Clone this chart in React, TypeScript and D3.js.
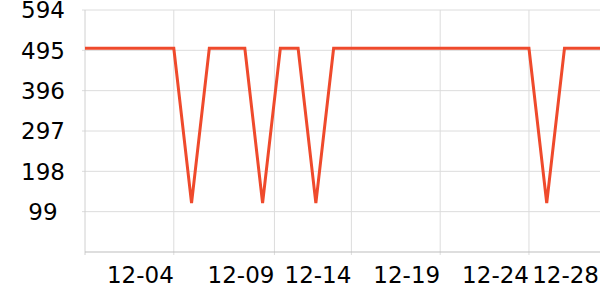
import React from "react";
import * as d3 from "d3";

const dates: string[] = [
  "2023-11-29", "2023-11-30", "2023-12-01", "2023-12-02", "2023-12-03",
  "2023-12-04", "2023-12-05", "2023-12-06", "2023-12-07", "2023-12-08",
  "2023-12-09", "2023-12-10", "2023-12-11", "2023-12-12", "2023-12-13",
  "2023-12-14", "2023-12-15", "2023-12-16", "2023-12-17", "2023-12-18",
  "2023-12-19", "2023-12-20", "2023-12-21", "2023-12-22", "2023-12-23",
  "2023-12-24", "2023-12-25", "2023-12-26", "2023-12-27", "2023-12-28",
];
const values: number[] = [
  500, 500, 500, 500, 500,
  500, 120, 500, 500, 500,
  120, 500, 500, 120, 500,
  500, 500, 500, 500, 500,
  500, 500, 500, 500, 500,
  500, 120, 500, 500, 500,
];
const xTickDates: string[] = [
  "2023-12-04T00:00", "2023-12-09T16:00", "2023-12-14T00:00",
  "2023-12-19T00:00", "2023-12-24T00:00", "2023-12-28T00:00",
];
const yTicks: number[] = [99, 198, 297, 396, 495, 594];
const yMax = 594;

const W = 600, H = 300;
const M = { left: 85, right: 600, top: 10, bottom: 252 };
const FONT = "DejaVu Sans, sans-serif";

export default function App() {
  const parse = (s: string) => new Date(s.length > 10 ? s : s + "T00:00");
  const pts = dates.map((d, i) => ({ x: parse(d), y: values[i] }));
  const x = d3.scaleTime().domain([pts[0].x, pts[pts.length - 1].x]).range([M.left, M.right]);
  const y = d3.scaleLinear().domain([0, yMax]).range([M.bottom, M.top]);
  const line = d3.line<{ x: Date; y: number }>().x(d => x(d.x)).y(d => y(d.y));
  const fmt = d3.timeFormat("%m-%d");
  const xt = xTickDates.map(parse);

  return (
    <svg width={W} height={H} style={{ position: "absolute", left: 0, top: 0, background: "#fff" }}>
      {yTicks.map(t => (
        <g key={"y" + t}>
          <line x1={M.left - 3} x2={M.right} y1={y(t)} y2={y(t)} stroke="#dcdcdc" strokeWidth={1} />
          <text x={43} y={y(t)} dy="0.36em" textAnchor="middle" fontFamily={FONT} fontSize={23} fill="#000">{t}</text>
        </g>
      ))}
      {xt.map((t, i) => (
        <g key={"x" + i}>
          {x(t) < M.right - 1 && (
            <line x1={x(t)} x2={x(t)} y1={M.top} y2={M.bottom + 3} stroke="#dcdcdc" strokeWidth={1} />
          )}
          <text x={Math.min(x(t), M.right - 1)} y={283} textAnchor="end" fontFamily={FONT} fontSize={23} fill="#000">{fmt(t)}</text>
        </g>
      ))}
      <line x1={M.left} x2={M.left} y1={M.top} y2={M.bottom + 3} stroke="#d0d0d0" strokeWidth={1} />
      <line x1={M.left} x2={M.right} y1={M.bottom} y2={M.bottom} stroke="#bdbdbd" strokeWidth={1} />
      <path d={line(pts) || ""} fill="none" stroke="#ef4a2c" strokeWidth={3} strokeLinejoin="miter" />
    </svg>
  );
}
